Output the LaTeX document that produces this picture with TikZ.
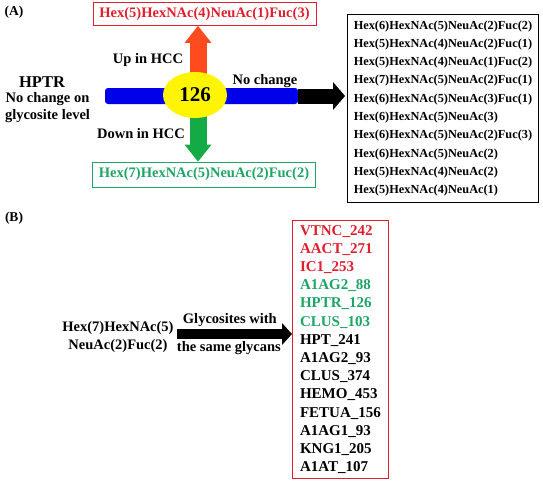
\documentclass[tikz,border=0pt]{standalone}
\usepackage{fontspec}
\setmainfont{Liberation Serif}
\usetikzlibrary{arrows.meta,shapes.geometric,positioning}

\definecolor{hccred}{RGB}{225,30,45}
\definecolor{upred}{RGB}{255,75,30}
\definecolor{downgreen}{RGB}{20,170,70}
\definecolor{glygreen}{RGB}{30,165,100}
\definecolor{barblue}{RGB}{0,0,235}
\definecolor{hubyellow}{RGB}{255,245,0}

\begin{document}
\begin{tikzpicture}[x=1pt, y=-1pt, every node/.style={inner sep=0pt},
    lbl/.style={font=\fontsize{14.5}{17}\selectfont\bfseries, align=center},
    glybox/.style={draw=#1, line width=0.8pt, text=#1, minimum width=223pt, minimum height=23pt, font=\fontsize{14.5}{17}\selectfont\bfseries},
    listbox/.style={draw=#1, line width=0.9pt, align=left},
    fatarrow/.style={draw=#1, line width=17pt, -{Triangle[width=27pt,length=17pt,line width=0pt]}}]
    \useasboundingbox (0,0) rectangle (543,482);

    % Panel A
    \node[font=\fontsize{13.5}{16}\selectfont\bfseries] (lblA) at (14,12) {(A)};
    \node[font=\fontsize{16.5}{19}\selectfont\bfseries] (hptr) at (42,82) {HPTR};
    \node[lbl] (hptrnote) at (47.5,108) {No change on\\glycosite level};

    \node[fill=barblue, rounded corners=3pt, minimum width=193pt, minimum height=16pt] (bar) at (201.5,96) {};
    \coordinate (axis) at (198,96);

    \node[glybox=hccred] (upbox) at (204.5,14) {Hex(5)HexNAc(4)NeuAc(1)Fuc(3)};
    \node[glybox=glygreen, minimum height=25pt] (downbox) at (204,174.5) {Hex(7)HexNAc(5)NeuAc(2)Fuc(2)};

    \node[listbox=black, minimum width=191pt, minimum height=188pt, anchor=north west,
          font=\fontsize{12.3}{18.3}\selectfont\bfseries] (glyclist) at (347,14)
        {Hex(6)HexNAc(5)NeuAc(2)Fuc(2)\\
         Hex(5)HexNAc(4)NeuAc(2)Fuc(1)\\
         Hex(5)HexNAc(4)NeuAc(1)Fuc(2)\\
         Hex(7)HexNAc(5)NeuAc(2)Fuc(1)\\
         Hex(6)HexNAc(5)NeuAc(3)Fuc(1)\\
         Hex(6)HexNAc(5)NeuAc(3)\\
         Hex(6)HexNAc(5)NeuAc(2)Fuc(3)\\
         Hex(6)HexNAc(5)NeuAc(2)\\
         Hex(5)HexNAc(4)NeuAc(2)\\
         Hex(5)HexNAc(4)NeuAc(1)};

    % Arrows out of the hub
    \draw[fatarrow=upred] (axis) -- (axis |- upbox.south);
    \draw[fatarrow=downgreen] (axis) -- (axis |- downbox.north);
    \draw[draw=black, line width=15pt, -{Triangle[width=28pt,length=12pt,line width=0pt]}, shorten >=2pt]
        (bar.east) -- (bar.east -| glyclist.west);

    \node[ellipse, fill=hubyellow, minimum width=64pt, minimum height=46pt,
          font=\fontsize{21}{24}\selectfont\bfseries] (hub) at (195,95) {126};

    \node[lbl] (up) at (148,60) {Up in HCC};
    \node[lbl] (down) at (141,134) {Down in HCC};
    \node[lbl] (nochange) at (265,81) {No change};

    % Panel B
    \node[font=\fontsize{13.5}{16}\selectfont\bfseries] (lblB) at (14,218) {(B)};
    \node[lbl, font=\fontsize{14.5}{18}\selectfont\bfseries] (glycan) at (118,337) {Hex(7)HexNAc(5)\\NeuAc(2)Fuc(2)};

    \node[listbox=hccred, minimum width=96pt, minimum height=258pt, anchor=north west,
          font=\fontsize{15}{18.2}\selectfont\bfseries] (sitelist) at (292,220)
        {\textcolor{hccred}{VTNC\_242}\\
         \textcolor{hccred}{AACT\_271}\\
         \textcolor{hccred}{IC1\_253}\\
         \textcolor{glygreen}{A1AG2\_88}\\
         \textcolor{glygreen}{HPTR\_126}\\
         \textcolor{glygreen}{CLUS\_103}\\
         HPT\_241\\
         A1AG2\_93\\
         CLUS\_374\\
         HEMO\_453\\
         FETUA\_156\\
         A1AG1\_93\\
         KNG1\_205\\
         A1AT\_107};

    \draw[draw=black, line width=10pt, -{Triangle[width=22pt,length=10pt,line width=0pt]}, shorten <=3pt]
        ([yshift=3pt]glycan.east) -- ([yshift=3pt]glycan.east -| sitelist.west)
        node[lbl, midway, above=2pt, xshift=-3pt] (withlbl) {Glycosites with}
        node[lbl, midway, below=2pt, xshift=-4pt] (samelbl) {the same glycans};
\end{tikzpicture}
\end{document}
